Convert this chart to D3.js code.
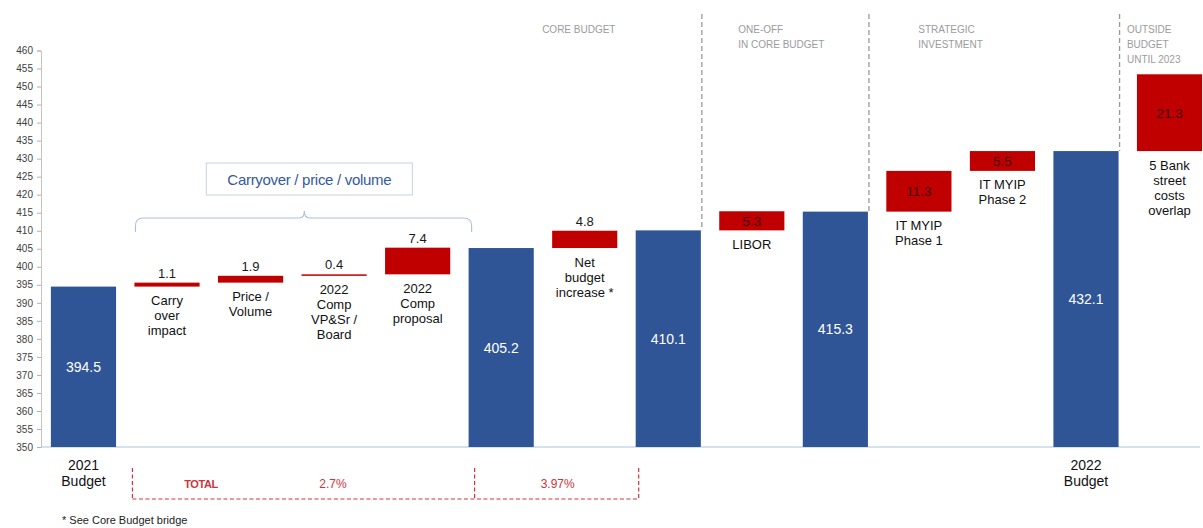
<!DOCTYPE html>
<html>
<head>
<meta charset="utf-8">
<script src="https://cdn.jsdelivr.net/npm/d3@7"></script>
<style>
  html, body { margin: 0; padding: 0; background: #ffffff; }
  svg { display: block; font-family: "Liberation Sans", Arial, sans-serif; }
</style>
</head>
<body>
<svg id="chart" width="1203" height="528"></svg>
<script>
// Budget bridge 2021 -> 2022 (waterfall)
const categories = [
  "2021 Budget", "Carry over impact", "Price / Volume", "2022 Comp VP&Sr / Board",
  "2022 Comp proposal", "Core subtotal", "Net budget increase *", "Core budget",
  "LIBOR", "Core incl. one-off", "IT MYIP Phase 1", "IT MYIP Phase 2",
  "2022 Budget", "5 Bank street costs overlap"
];
const values = [394.5, 1.1, 1.9, 0.4, 7.4, 405.2, 4.8, 410.1, 5.3, 415.3, 11.3, 5.5, 432.1, 21.3];
const kinds  = ["total", "delta", "delta", "delta", "delta", "total", "delta", "total",
                "delta", "total", "delta", "delta", "total", "delta"];
const valueLabelPlacement = ["inside", "above", "above", "above", "above", "inside", "above",
                             "inside", "inside", "inside", "inside", "inside", "inside", "inside"];
const labelLines = [
  ["2021", "Budget"], ["Carry", "over", "impact"], ["Price /", "Volume"],
  ["2022", "Comp", "VP&Sr /", "Board"], ["2022", "Comp", "proposal"], [],
  ["Net", "budget", "increase *"], [], ["LIBOR"], [], ["IT MYIP", "Phase 1"],
  ["IT MYIP", "Phase 2"], ["2022", "Budget"], ["5 Bank", "street", "costs", "overlap"]
];
const yTicks = d3.range(350, 461, 5);
// Each section title sits above the first bar of its section
const sectionTitles = [
  { bar: 6, lines: ["CORE BUDGET"] },
  { bar: 8, lines: ["ONE-OFF", "IN CORE BUDGET"] },
  { bar: 10, lines: ["STRATEGIC", "INVESTMENT"] },
  { bar: 13, lines: ["OUTSIDE", "BUDGET", "UNTIL 2023"] }
];
const separatorsAt = [7, 9, 12];
const growthLabels = ["TOTAL", "2.7%", "3.97%"];
const bracketTitle = "Carryover / price / volume";
const footnote = "* See Core Budget bridge";

const BLUE = "#2F5597", RED = "#C00000";
const titleOffsets = [-10, 19, 32, -10];

const svg = d3.select("#chart");

const x = d3.scaleBand()
  .domain(d3.range(categories.length))
  .range([41.7, 1211.3])
  .paddingInner(0.22)
  .paddingOuter(0.11);

const y = d3.scaleLinear().domain([350, 460]).range([447, 50.5]);

// Waterfall geometry: each delta starts where the running total ends
let running = 0;
const bars = values.map((v, i) => {
  let lo, hi;
  if (kinds[i] === "total") { lo = 350; hi = v; running = v; }
  else { lo = running; hi = running + v; running = hi; }
  return { i, v, kind: kinds[i], lo, hi };
});

// Y axis
const yAxis = d3.axisLeft(y).tickValues(yTicks).tickSize(4).tickPadding(4).tickFormat(d3.format("d"));
const gy = svg.append("g").attr("transform", "translate(41,0)").call(yAxis);
gy.select(".domain").attr("stroke", "#c4c4c4");
gy.selectAll(".tick line").attr("stroke", "#b0b0b0");
gy.selectAll(".tick text").attr("fill", "#404040").style("font-size", "10px")
  .style("font-family", "'Liberation Sans', Arial, sans-serif");

// Baseline
svg.append("line")
  .attr("x1", 41).attr("x2", 1200)
  .attr("y1", y(350)).attr("y2", y(350))
  .attr("stroke", "#a9c4e4").attr("stroke-width", 1.2);

// Section separators (dashed, from top down to the subtotal bar)
separatorsAt.forEach(i => {
  const xr = x(i) + x.bandwidth() + 1;
  svg.append("line")
    .attr("x1", xr).attr("x2", xr)
    .attr("y1", 14).attr("y2", y(bars[i].hi))
    .attr("stroke", "#9a9a9a").attr("stroke-width", 1.3)
    .attr("stroke-dasharray", "5,3");
});

// Section titles
sectionTitles.forEach((s, k) => {
  const x0 = x(s.bar) + titleOffsets[k];
  s.lines.forEach((t, j) => {
    svg.append("text")
      .attr("x", x0).attr("y", 33 + j * 15)
      .attr("fill", "#9b9b9b").style("font-size", "10px")
      .text(t);
  });
});

// Bars
svg.append("g").selectAll("rect").data(bars).join("rect")
  .attr("x", d => x(d.i))
  .attr("width", x.bandwidth())
  .attr("y", d => y(d.hi))
  .attr("height", d => Math.max(1.5, y(d.lo) - y(d.hi)))
  .attr("fill", d => d.kind === "total" ? BLUE : RED);

// Value labels
const fmt = d3.format(".1f");
bars.forEach(d => {
  const cx = x(d.i) + x.bandwidth() / 2;
  if (valueLabelPlacement[d.i] === "above") {
    svg.append("text").attr("x", cx).attr("y", y(d.hi) - 5)
      .attr("text-anchor", "middle").attr("fill", "#1a1a1a").style("font-size", "13px")
      .text(fmt(d.v));
  } else {
    svg.append("text").attr("x", cx).attr("y", (y(d.hi) + y(d.lo)) / 2 + 5)
      .attr("text-anchor", "middle")
      .attr("fill", d.kind === "total" ? "#ffffff" : "#420404")
      .style("font-size", d.kind === "total" ? "14px" : "13.5px")
      .text(fmt(d.v));
  }
});

// Category labels
bars.forEach(d => {
  const lines = labelLines[d.i];
  if (!lines.length) return;
  const cx = x(d.i) + x.bandwidth() / 2;
  const isTotal = d.kind === "total";
  const top = isTotal ? y(350) + 23 : y(d.lo) + 18.5;
  lines.forEach((t, j) => {
    svg.append("text").attr("x", cx).attr("y", top + j * (isTotal ? 16 : 15))
      .attr("text-anchor", "middle").attr("fill", "#111")
      .style("font-size", isTotal ? "14px" : "13px")
      .text(t);
  });
});

// Bracket over the first four drivers
const bx0 = x(1) + 1, bx1 = x(5) + 3, bmid = (x(1) + x(4) + x.bandwidth()) / 2 + 12;
const by = 218, r = 8;
svg.append("path")
  .attr("d", `M${bx0},${by + 14} L${bx0},${by + r} Q${bx0},${by} ${bx0 + r},${by}
              L${bmid - 5},${by} Q${bmid},${by} ${bmid},${by - 7} Q${bmid},${by} ${bmid + 5},${by}
              L${bx1 - r},${by} Q${bx1},${by} ${bx1},${by + r} L${bx1},${by + 14}`)
  .attr("fill", "none").attr("stroke", "#aec2dc").attr("stroke-width", 1.2);

svg.append("rect")
  .attr("x", bmid - 98).attr("y", 163).attr("width", 206).attr("height", 32)
  .attr("fill", "#fff").attr("stroke", "#c8d2e2").attr("stroke-width", 1);
svg.append("text").attr("x", bmid + 5).attr("y", 184.5)
  .attr("text-anchor", "middle").attr("fill", "#3559a0").style("font-size", "15px")
  .style("letter-spacing", "-0.3px")
  .text(bracketTitle);

// Growth box (red dashed)
const gx0 = x(1) - 2, gx1 = x(5) + 6, gx2 = x(7) + 3, gyTop = 468, gyBot = 499;
const red = "#d0343b";
[[gx0, gyTop, gx0, gyBot], [gx1, gyTop, gx1, gyBot], [gx2, gyTop, gx2, gyBot], [gx0, gyBot, gx2, gyBot]]
  .forEach(([a, b, c, e]) => {
    svg.append("line").attr("x1", a).attr("y1", b).attr("x2", c).attr("y2", e)
      .attr("stroke", red).attr("stroke-width", 1.2).attr("stroke-dasharray", "4,2.5");
  });
svg.append("text").attr("x", 201).attr("y", 487.5).attr("text-anchor", "middle")
  .attr("fill", red).style("font-size", "11px").style("font-weight", "bold")
  .style("letter-spacing", "-0.4px").text(growthLabels[0]);
svg.append("text").attr("x", 333).attr("y", 487.5).attr("text-anchor", "middle")
  .attr("fill", red).style("font-size", "12px").text(growthLabels[1]);
svg.append("text").attr("x", (gx1 + gx2) / 2 + 1).attr("y", 487.5).attr("text-anchor", "middle")
  .attr("fill", red).style("font-size", "12px").text(growthLabels[2]);

// Footnote
svg.append("text").attr("x", 62).attr("y", 524).attr("fill", "#222")
  .style("font-size", "11px").text(footnote);
</script>
</body>
</html>
